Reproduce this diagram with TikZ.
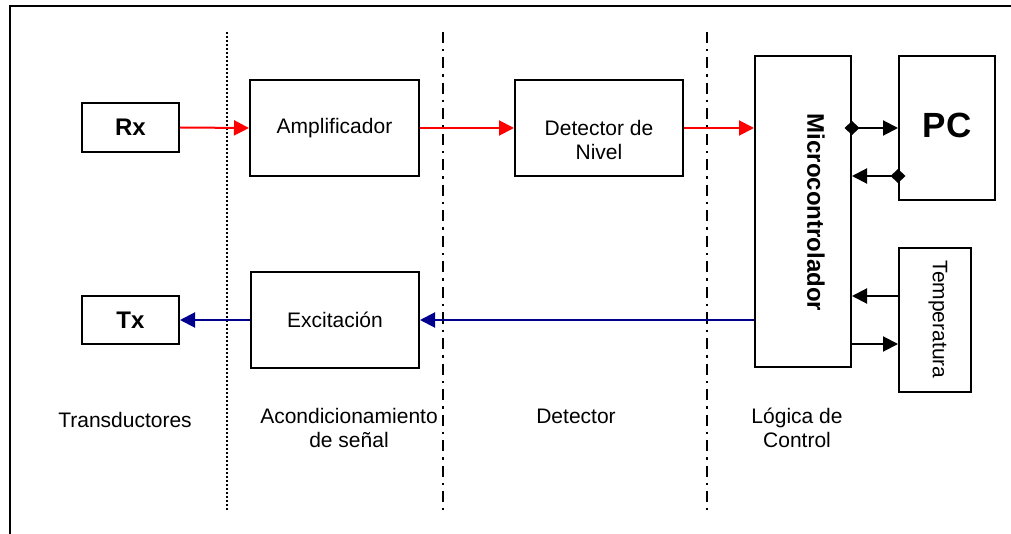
\documentclass[tikz,border=0pt]{standalone}
\usepackage{fontspec}
\setmainfont{Liberation Sans}
\usetikzlibrary{arrows.meta,calc}
\begin{document}
\begin{tikzpicture}[x=1pt,y=-1pt,
  box/.style={draw=black,line width=2pt,minimum width=#1,inner sep=0pt},
  lbl/.style={font=\fontsize{21}{24}\selectfont,align=center,inner sep=0pt},
  bold/.style={font=\fontsize{24}{26}\selectfont\bfseries,inner sep=0pt},
  sig/.style={line width=2pt,-{Triangle[length=15pt,width=15pt]}},
  rxsig/.style={sig,draw=sigred},
  txsig/.style={sig,draw=signavy},
  bus/.style={sig,{Diamond[length=15pt,width=14pt]}-{Triangle[length=15pt,width=15pt]},shorten <=-7.5pt},
  sepdot/.style={line width=1.6pt,dash pattern=on 2pt off 2pt},
  sepdash/.style={line width=2.4pt,dash pattern=on 11pt off 6pt on 2.5pt off 6pt}]
\definecolor{sigred}{RGB}{255,0,0}
\definecolor{signavy}{RGB}{0,0,140}
\useasboundingbox (0,0) rectangle (1011,534);
% outer frame (top and left edges)
\draw[line width=2pt] (9.5,534) -- (9.5,6.5) -- (1011,6.5);

% stage separators
\coordinate (s1t) at (227,32);  \coordinate (s1b) at (227,510);
\coordinate (s2t) at (443,32);  \coordinate (s2b) at (443,510);
\coordinate (s3t) at (707,32);  \coordinate (s3b) at (707,510);
\draw[sepdot] (s1t) -- (s1b);
\draw[sepdash] (s2t) -- (s2b);
\draw[sepdash] (s3t) -- (s3b);

% blocks
\node[box=97pt,minimum height=49pt,bold] (rx) at (130.5,127.5) {Rx};
\node[box=97pt,minimum height=48pt,bold] (tx) at (130.5,320) {Tx};
\node[box=169pt,minimum height=96pt,lbl] (amp) at (334.5,128) {Amplificador};
\node[box=168pt,minimum height=96pt,lbl] (exc) at (335,320) {Excitación};
\node[box=168pt,minimum height=96pt] (det) at (599,128) {};
\node[lbl] (detlbl) at (599,140) {Detector de\\Nivel};
\node[box=96pt,minimum height=311pt] (mcu) at (803,211.5) {};
\node[bold,rotate=-90] (mculbl) at (816,212.5) {Microcontrolador};
\node[box=96pt,minimum height=144pt] (pc) at (947,128) {};
\node[font=\fontsize{35}{40}\selectfont\bfseries,inner sep=0pt] (pclbl) at (947,125) {PC};
\node[box=72pt,minimum height=144pt] (temp) at (935,320) {};
\node[lbl,rotate=-90] (templbl) at (938,319.5) {Temperatura};

% receive path
\draw[rxsig] (rx.east) -- (amp.west);
\draw[rxsig] (amp.east) -- (det.west);
\draw[rxsig] (det.east) -- (det.east -| mcu.west);

% transmit path
\coordinate (mcuout) at (mcu.west |- exc.east);
\draw[txsig] (mcuout) -- (exc.east);
\draw[txsig] (exc.west) -- (tx.east);

% PC link
\coordinate (pcin) at (pc.west);
\coordinate (pcout) at ([yshift=-48pt]pc.west);
\draw[bus] (pcin -| mcu.east) -- (pcin);
\draw[bus] (pcout) -- (pcout -| mcu.east);

% temperature sensor link
\coordinate (tin) at ([yshift=24pt]temp.west);
\coordinate (tout) at ([yshift=-24pt]temp.west);
\draw[sig] (tin) -- (tin -| mcu.east);
\draw[sig] (tout -| mcu.east) -- (tout);

% stage names
\node[lbl] (l1) at (125,420) {Transductores};
\node[lbl] (l2) at (349,428) {Acondicionamiento\\de señal};
\node[lbl] (l3) at (576,416) {Detector};
\node[lbl] (l4) at (797,428) {Lógica de\\Control};
\end{tikzpicture}
\end{document}
